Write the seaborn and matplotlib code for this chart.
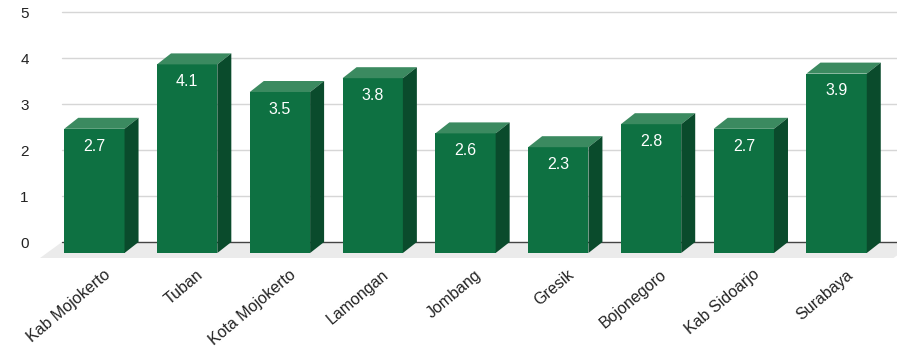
import matplotlib
matplotlib.use("Agg")
import matplotlib.pyplot as plt
import seaborn as sns
import pandas as pd
from matplotlib.patches import Polygon
from matplotlib.transforms import ScaledTranslation

# ---- data ----
regions = ["Kab Mojokerto", "Tuban", "Kota Mojokerto", "Lamongan", "Jombang",
           "Gresik", "Bojonegoro", "Kab Sidoarjo", "Surabaya"]
values = [2.7, 4.1, 3.5, 3.8, 2.6, 2.3, 2.8, 2.7, 3.9]
y_ticks = [0, 1, 2, 3, 4, 5]

# ---- style ----
FRONT = "#0e7142"
TOP = "#3b8a60"
SIDE = "#0a4b2c"
FLOOR = "#ebebeb"
GRID = "#d6d6d6"
TEXT = "#222222"

sns.set_theme(style="white")
plt.rcParams["font.family"] = ["Liberation Sans", "DejaVu Sans"]

W, H, DPI = 897, 348, 100
fig = plt.figure(figsize=(W / DPI, H / DPI), dpi=DPI)
# axes in pixel coords: back plane x 62..897, y(0)=242, y(5)=12
left, right, top, bottom = 62, 897, 12, 242
ax = fig.add_axes([left / W, 1 - bottom / H, (right - left) / W, (bottom - top) / H])

df = pd.DataFrame({"region": regions, "value": values})
sns.barplot(data=df, x="region", y="value", color=FRONT, saturation=1,
            width=0.65, ax=ax, zorder=3, edgecolor="none")
bars = list(ax.patches)

ax.set_xlim(-0.5, len(regions) - 0.5)
ax.set_ylim(0, 5)

# pixel -> data conversions
px_x = (right - left) / (len(regions))          # px per x unit
px_y = (bottom - top) / 5.0                      # px per y unit
dx_bar, dy_bar = 14 / px_x, 11 / px_y
dx_floor, dy_floor = 22 / px_x, 16 / px_y

# floor
x0l, x1l = ax.get_xlim()
floor = Polygon([(x0l, 0), (x1l + 0.2, 0), (x1l + 0.2 - dx_floor, -dy_floor),
                 (x0l - dx_floor, -dy_floor)], closed=True, facecolor=FLOOR,
                edgecolor="none", clip_on=False, zorder=1)
ax.add_patch(floor)

# gridlines
for t in y_ticks:
    ax.axhline(t, color="#444444" if t == 0 else GRID, lw=1.0,
               zorder=0.5 if t else 1.5, clip_on=False)

# 3D bars
for p, v in zip(bars, values):
    x0 = p.get_x()
    w = p.get_width()
    h = p.get_height()
    p.set_x(x0 - dx_bar)
    p.set_y(-dy_bar)
    p.set_clip_on(False)
    fx0, fx1 = x0 - dx_bar, x0 + w - dx_bar
    fy1 = h - dy_bar
    topf = Polygon([(fx0, fy1), (fx1, fy1), (x0 + w, h), (x0, h)], closed=True,
                   facecolor=TOP, edgecolor="none", clip_on=False, zorder=3)
    side = Polygon([(fx1, -dy_bar), (fx1, fy1), (x0 + w, h), (x0 + w, 0)], closed=True,
                   facecolor=SIDE, edgecolor="none", clip_on=False, zorder=3)
    ax.add_patch(topf)
    ax.add_patch(side)
    ax.annotate(f"{v:.1f}", xy=((fx0 + fx1) / 2, fy1), xytext=(0, -12.5),
                textcoords="offset points", ha="center", va="center",
                color="white", fontsize=11.5, zorder=4)

# axes cosmetics
for s in ax.spines.values():
    s.set_visible(False)
ax.set_yticks(y_ticks)
ax.set_yticklabels([str(t) for t in y_ticks], color=TEXT, fontsize=11)
ax.tick_params(axis="y", length=0, pad=24)
ax.set_xticks(range(len(regions)))
ax.set_xticklabels(regions, rotation=40, ha="right", rotation_mode="anchor",
                   color=TEXT, fontsize=11.5)
ax.tick_params(axis="x", length=0, pad=18)
shift = ScaledTranslation(-5 / DPI, 0, fig.dpi_scale_trans)
for lbl in ax.get_xticklabels():
    lbl.set_transform(lbl.get_transform() + shift)
ax.set_xlabel("")
ax.set_ylabel("")
ax.grid(False)
ax.set_facecolor("none")

fig.savefig("out.png", dpi=DPI, facecolor="white")
